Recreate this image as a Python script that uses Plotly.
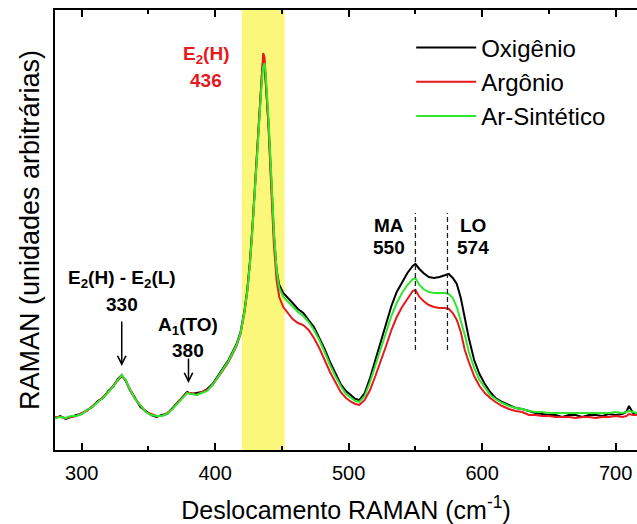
import plotly.graph_objects as go

# Raman shift (cm^-1)
shift = [280, 284, 288, 292, 296, 300, 304, 308, 312, 316, 320, 324, 327, 330, 333, 336,
         340, 344, 348, 352, 356, 360, 364, 368, 372, 376, 379, 382, 386, 390, 394, 398,
         402, 406, 410, 413, 416, 419, 422, 424, 426, 428, 430, 432, 434, 435, 436, 437,
         438, 440, 442, 444, 446, 448, 451, 454, 458, 462, 466, 470, 474, 478, 482, 486,
         490, 494, 498, 502, 505, 508, 512, 516, 520, 524, 528, 532, 536, 540, 544, 548,
         550, 553, 556, 560, 564, 568, 572, 575, 578, 581, 584, 587, 590, 594, 598, 602,
         606, 610, 615, 620, 625, 630, 635, 640, 645, 650, 655, 660, 665, 670, 675, 680,
         685, 690, 695, 700, 705, 708, 710, 713, 716]

# Intensities (arbitrary units)
oxigenio = [32, 34, 31, 33, 35, 36, 40, 43, 49, 52, 59, 64, 71, 75, 69, 61,
            52, 43, 39, 35, 33, 35, 36, 42, 47, 54, 58, 56, 57, 58, 61, 66,
            74, 82, 90, 98, 106, 118, 140, 160, 188, 225, 270, 315, 355, 375, 390, 385,
            365, 325, 270, 215, 180, 165, 157, 153, 147, 141, 137, 130, 123, 112, 101, 88,
            77, 66, 59, 54, 51, 50, 57, 72, 90, 108, 126, 144, 158, 168, 177, 184,
            186, 181, 177, 173, 172, 173, 175, 176, 172, 166, 152, 130, 112, 90, 76, 66,
            58, 52, 48, 45, 42, 41, 39, 37, 36, 35, 35, 33, 35, 35, 33, 35,
            35, 34, 36, 35, 36, 38, 44, 37, 35]

argonio = [33, 33, 32, 33, 34, 37, 39, 44, 48, 53, 58, 65, 70, 74, 70, 60,
           51, 44, 38, 36, 34, 34, 37, 41, 48, 53, 57, 57, 55, 58, 60, 65,
           72, 80, 88, 96, 104, 116, 138, 158, 186, 224, 270, 316, 358, 380, 397, 392,
           370, 322, 262, 205, 170, 153, 143, 138, 131, 127, 125, 120, 112, 102, 90, 78,
           68, 58, 52, 48, 46, 45, 50, 60, 74, 88, 104, 120, 133, 143, 151, 159,
           160, 153, 149, 145, 143, 142, 142, 141, 137, 130, 118, 100, 88, 74, 64, 57,
           52, 48, 44, 41, 39, 38, 35, 35, 34, 34, 33, 33, 33, 32, 33, 33,
           32, 33, 33, 34, 33, 34, 36, 35, 35]

ar_sintetico = [32, 33, 32, 34, 34, 36, 40, 43, 48, 52, 58, 64, 70, 75, 70, 61,
                51, 44, 38, 35, 34, 34, 36, 41, 47, 53, 57, 56, 55, 57, 59, 65,
                73, 81, 89, 97, 105, 117, 139, 158, 185, 222, 266, 310, 352, 370, 383, 387,
                372, 330, 275, 218, 180, 162, 153, 149, 143, 138, 134, 128, 120, 110, 98, 85,
                74, 64, 56, 52, 49, 48, 54, 68, 84, 100, 117, 134, 147, 157, 165, 171,
                172, 165, 161, 158, 157, 157, 157, 156, 152, 143, 130, 115, 98, 82, 70, 62,
                55, 51, 47, 44, 42, 41, 39, 38, 38, 37, 37, 37, 37, 37, 37, 37,
                37, 37, 37, 38, 37, 38, 39, 38, 37]

series = [("Oxigênio", oxigenio, "#000000"),
          ("Argônio", argonio, "#e8191c"),
          ("Ar-Sintético", ar_sintetico, "#2ee82e")]

# Band marks and mode labels
band_range = [420, 452]
mode_lines = [550, 574]

FONT = "Arial, Liberation Sans, sans-serif"

fig = go.Figure()
for name, vals, color in series:
    fig.add_trace(go.Scatter(x=shift, y=vals, mode="lines", name=name,
                             line=dict(color=color, width=2)))

# Highlighted E2(H) band
fig.add_shape(type="rect", xref="x", yref="paper", x0=band_range[0], x1=band_range[1],
              y0=0, y1=1, fillcolor="#fbf77a", line=dict(width=0), layer="below")

# Dashed markers at MA and LO
for xv in mode_lines:
    fig.add_shape(type="line", xref="x", yref="y", x0=xv, x1=xv, y0=100, y1=237,
                  line=dict(color="#222222", width=1.3, dash="5px,3px"))

def label(x, y, text, color="#000000", size=19):
    fig.add_annotation(x=x, y=y, xref="x", yref="y", text=text, showarrow=False,
                       font=dict(family=FONT, size=size, color=color),
                       xanchor="center", yanchor="middle")

label(393, 395, "<b>E<sub>2</sub>(H)</b>", color="#e8191c")
label(393, 370, "<b>436</b>", color="#e8191c")
label(330, 171, "<b>E<sub>2</sub>(H) - E<sub>2</sub>(L)</b>")
label(330, 146, "<b>330</b>")
label(379.5, 124, "<b>A<sub>1</sub>(TO)</b>")
label(379.5, 100, "<b>380</b>")
label(530.5, 225, "<b>MA</b>")
label(530.5, 203, "<b>550</b>")
label(593, 225, "<b>LO</b>")
label(593, 203, "<b>574</b>")

# Arrows pointing at the weak modes
for xv, y_tip, y_tail in [(330, 84, 130), (380, 67, 93)]:
    fig.add_annotation(x=xv, y=y_tip, ax=xv, ay=y_tail, xref="x", yref="y",
                       axref="x", ayref="y", text="", showarrow=True,
                       arrowhead=5, arrowsize=1.1, arrowwidth=1.5, arrowcolor="#000000")

fig.update_layout(
    width=637, height=524,
    margin=dict(l=55, r=0, t=10, b=74),
    paper_bgcolor="white", plot_bgcolor="white",
    font=dict(family=FONT, color="#000000"),
    showlegend=True,
    legend=dict(x=0.612, y=0.965, xanchor="left", yanchor="top",
                bgcolor="rgba(0,0,0,0)", font=dict(size=24, family=FONT),
                itemwidth=60, tracegroupgap=0),
    xaxis=dict(range=[280, 716], showgrid=False, zeroline=False,
               showline=True, linecolor="#000000", linewidth=2, mirror="ticks",
               ticks="inside", ticklen=7, tickwidth=1.5, tickcolor="#000000",
               tickvals=[300, 400, 500, 600, 700], ticklabelstandoff=4,
               tickfont=dict(size=20, family=FONT),
               minor=dict(tickvals=[350, 450, 550, 650], ticks="inside", ticklen=4,
                          tickwidth=1.5, tickcolor="#000000"),
               title=dict(text="Deslocamento RAMAN (cm<sup>-1</sup>)",
                          font=dict(size=25, family=FONT), standoff=18)),
    yaxis=dict(range=[0, 440], showgrid=False, zeroline=False, showticklabels=False,
               showline=True, linecolor="#000000", linewidth=2, ticks="",
               title=dict(text="RAMAN (unidades arbitrárias)",
                          font=dict(size=27, family=FONT), standoff=6)),
)

fig.write_html("out.html")
